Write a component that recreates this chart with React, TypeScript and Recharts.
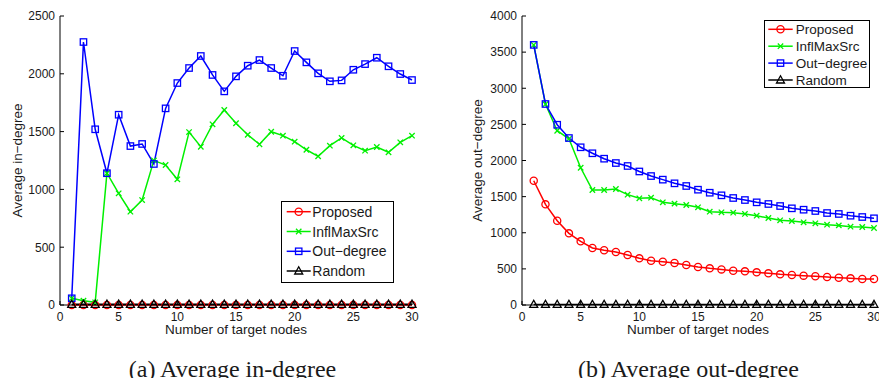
import React from 'react';
import { LineChart, Line, XAxis, YAxis, Legend, Label } from 'recharts';

const X_VALUES = [1, 2, 3, 4, 5, 6, 7, 8, 9, 10, 11, 12, 13, 14, 15, 16, 17, 18, 19, 20, 21, 22, 23, 24, 25, 26, 27, 28, 29, 30];
const X_TICKS = [0, 5, 10, 15, 20, 25, 30];
const IN_Y_TICKS = [0, 500, 1000, 1500, 2000, 2500];
const OUT_Y_TICKS = [0, 500, 1000, 1500, 2000, 2500, 3000, 3500, 4000];

// (a) average in-degree
const IN_PROPOSED = [0, 0, 0, 0, 0, 0, 0, 0, 0, 0, 0, 0, 0, 0, 0, 0, 0, 0, 0, 0, 0, 0, 0, 0, 0, 0, 0, 0, 0, 0];
const IN_INFLMAX = [58, 37, 23, 1140, 966, 807, 908, 1251, 1211, 1087, 1496, 1369, 1563, 1687, 1572, 1473, 1390, 1499, 1465, 1413, 1343, 1286, 1378, 1445, 1381, 1335, 1367, 1321, 1407, 1465];
const IN_OUTDEG = [58, 2275, 1520, 1140, 1646, 1375, 1393, 1220, 1701, 1920, 2050, 2154, 1990, 1848, 1978, 2070, 2119, 2050, 1983, 2197, 2099, 2004, 1935, 1943, 2035, 2084, 2139, 2065, 1998, 1946];
const IN_RANDOM = [6, 6, 6, 6, 6, 6, 6, 6, 6, 6, 6, 6, 6, 6, 6, 6, 6, 6, 6, 6, 6, 6, 6, 6, 6, 6, 6, 6, 6, 6];

// (b) average out-degree
const OUT_PROPOSED = [1720, 1393, 1167, 992, 881, 789, 757, 733, 692, 646, 613, 599, 581, 553, 526, 507, 493, 475, 466, 452, 438, 424, 415, 406, 397, 387, 378, 369, 360, 360];
const OUT_INFLMAX = [3600, 2780, 2412, 2300, 1900, 1592, 1592, 1606, 1527, 1477, 1485, 1421, 1403, 1384, 1352, 1292, 1283, 1278, 1260, 1236, 1204, 1172, 1163, 1144, 1130, 1112, 1102, 1084, 1080, 1066];
const OUT_OUTDEG = [3600, 2782, 2495, 2311, 2183, 2100, 2025, 1965, 1924, 1848, 1785, 1735, 1684, 1647, 1596, 1554, 1518, 1481, 1453, 1421, 1398, 1370, 1338, 1319, 1301, 1273, 1260, 1236, 1218, 1200];
const OUT_RANDOM = [8, 8, 8, 8, 8, 8, 8, 8, 8, 8, 8, 8, 8, 8, 8, 8, 8, 8, 8, 8, 8, 8, 8, 8, 8, 8, 8, 8, 8, 8];

const SERIES = [
  { key: 'proposed', name: 'Proposed', color: '#ff0000', shape: 'circle' },
  { key: 'inflmax', name: 'InflMaxSrc', color: '#00f000', shape: 'x' },
  { key: 'outdeg', name: 'Out\u2212degree', color: '#0000ff', shape: 'square' },
  { key: 'random', name: 'Random', color: '#000000', shape: 'triangle' },
];

const inData = X_VALUES.map((x, i) => ({
  x,
  proposed: IN_PROPOSED[i],
  inflmax: IN_INFLMAX[i],
  outdeg: IN_OUTDEG[i],
  random: IN_RANDOM[i],
}));

const outData = X_VALUES.map((x, i) => ({
  x,
  proposed: OUT_PROPOSED[i],
  inflmax: OUT_INFLMAX[i],
  outdeg: OUT_OUTDEG[i],
  random: OUT_RANDOM[i],
}));

const FONT = '"Liberation Sans", Arial, Helvetica, sans-serif';
const SERIF = '"Liberation Serif", "Times New Roman", serif';
const TEXT = '#1a1a1a';

function Marker({ shape, color, cx, cy }: any) {
  if (cx == null || cy == null) return null;
  const sw = 1.3;
  if (shape === 'circle') {
    return <circle cx={cx} cy={cy} r={3.6} fill="none" stroke={color} strokeWidth={sw} />;
  }
  if (shape === 'x') {
    const d = 2.7;
    return (
      <path
        d={`M${cx - d},${cy - d}L${cx + d},${cy + d}M${cx - d},${cy + d}L${cx + d},${cy - d}`}
        stroke={color}
        strokeWidth={sw}
        fill="none"
      />
    );
  }
  if (shape === 'square') {
    return <rect x={cx - 3.2} y={cy - 3.2} width={6.4} height={6.4} fill="none" stroke={color} strokeWidth={sw} />;
  }
  return (
    <path
      d={`M${cx},${cy - 4.2}L${cx + 4},${cy + 3}L${cx - 4},${cy + 3}Z`}
      fill="none"
      stroke={color}
      strokeWidth={sw}
    />
  );
}

const makeDot = (shape: string, color: string) => (props: any) => (
  <Marker key={`${shape}-${props.index}`} shape={shape} color={color} cx={props.cx} cy={props.cy} />
);

const XTick = (props: any) => (
  <text x={props.x} y={props.y + 7.5} textAnchor="middle" fontSize={12} fontFamily={FONT} fill={TEXT}>
    {props.payload.value}
  </text>
);

const YTick = (props: any) => (
  <text x={props.x} y={props.y + 4.3} textAnchor="end" fontSize={12} fontFamily={FONT} fill={TEXT}>
    {props.payload.value}
  </text>
);

const xLabel = (props: any) => {
  const vb = props.viewBox || { x: 0, y: 0, width: 0 };
  return (
    <text x={vb.x + vb.width / 2} y={vb.y + 29} textAnchor="middle" fontSize={13.5} fontFamily={FONT} fill={TEXT}>
      Number of target nodes
    </text>
  );
};

const yLabel = (text: string, lx: number) => (props: any) => {
  const vb = props.viewBox || { y: 16, height: 289 };
  const cy = vb.y + vb.height / 2;
  return (
    <text
      x={lx}
      y={cy}
      transform={`rotate(-90, ${lx}, ${cy})`}
      textAnchor="middle"
      dominantBaseline="central"
      fontSize={13.5}
      fontFamily={FONT}
      fill={TEXT}
    >
      {text}
    </text>
  );
};

function LegendBox({ width, height, rows, fontSize, lineX0, lineX1, textX }: any) {
  return (
    <svg width={width} height={height} style={{ display: 'block' }}>
      <rect x={0.5} y={0.5} width={width - 1} height={height - 1} fill="#fff" stroke="#000" strokeWidth={1} />
      {SERIES.map((s, i) => {
        const cy = rows[i];
        return (
          <g key={s.key}>
            <line x1={lineX0} x2={lineX1} y1={cy} y2={cy} stroke={s.color} strokeWidth={1.5} />
            <Marker shape={s.shape} color={s.color} cx={(lineX0 + lineX1) / 2} cy={cy} />
            <text x={textX} y={cy} dominantBaseline="central" fontSize={fontSize} fontFamily={FONT} fill={TEXT}>
              {s.name}
            </text>
          </g>
        );
      })}
    </svg>
  );
}

function Panel({ data, yTicks, yMax, yText, width, yAxisWidth, marginRight, yLabelX, legend }: any) {
  return (
    <LineChart
      width={width}
      height={378}
      data={data}
      margin={{ top: 16, right: marginRight, bottom: 40, left: 0 }}
    >
      <XAxis
        dataKey="x"
        type="number"
        domain={[0, 30]}
        ticks={X_TICKS}
        interval={0}
        stroke="#000"
        tickSize={-4}
        tickMargin={12}
        tick={XTick}
        height={33}
      >
        <Label content={xLabel} />
      </XAxis>
      <XAxis
        xAxisId="top"
        orientation="top"
        dataKey="x"
        type="number"
        domain={[0, 30]}
        ticks={X_TICKS}
        interval={0}
        stroke="#000"
        tickSize={-4}
        tick={false}
        height={0}
      />
      <YAxis
        type="number"
        domain={[0, yMax]}
        ticks={yTicks}
        interval={0}
        stroke="#000"
        tickSize={-4}
        tickMargin={9}
        tick={YTick}
        width={yAxisWidth}
      >
        <Label content={yLabel(yText, yLabelX)} />
      </YAxis>
      <YAxis
        yAxisId="right"
        orientation="right"
        type="number"
        domain={[0, yMax]}
        ticks={yTicks}
        interval={0}
        stroke="#000"
        tickSize={-4}
        tick={false}
        width={0}
      />
      {SERIES.map((s) => (
        <Line
          key={s.key}
          type="linear"
          dataKey={s.key}
          name={s.name}
          stroke={s.color}
          strokeWidth={1.5}
          dot={makeDot(s.shape, s.color)}
          activeDot={false}
          isAnimationActive={false}
        />
      ))}
      <Legend
        layout="vertical"
        align="center"
        verticalAlign="middle"
        wrapperStyle={{ left: legend.left, top: legend.top, width: legend.width, height: legend.height }}
        content={() => <LegendBox {...legend} />}
      />
    </LineChart>
  );
}

export default function App() {
  return (
    <div style={{ position: 'absolute', left: 0, top: 0, width: 879, height: 378, background: '#fff', overflow: 'hidden' }}>
      <div style={{ position: 'absolute', left: 0, top: 0 }}>
        <Panel
          data={inData}
          yTicks={IN_Y_TICKS}
          yMax={2500}
          yText={'Average in\u2212degree'}
          width={440}
          yAxisWidth={60}
          marginRight={28}
          yLabelX={17}
          legend={{
            left: 281,
            top: 201,
            width: 113,
            height: 82,
            rows: [10.7, 30.5, 50.3, 70],
            fontSize: 14,
            lineX0: 5.7,
            lineX1: 29.7,
            textX: 31.3,
          }}
        />
      </div>
      <div style={{ position: 'absolute', left: 440, top: 0 }}>
        <Panel
          data={outData}
          yTicks={OUT_Y_TICKS}
          yMax={4000}
          yText={'Average out\u2212degree'}
          width={439}
          yAxisWidth={82}
          marginRight={5}
          yLabelX={37}
          legend={{
            left: 324,
            top: 20,
            width: 106,
            height: 68,
            rows: [9.3, 26.2, 43.1, 60],
            fontSize: 13.5,
            lineX0: 4.3,
            lineX1: 28.7,
            textX: 31.7,
          }}
        />
      </div>
      <div
        style={{
          position: 'absolute',
          left: 0,
          top: 355,
          width: 440,
          textAlign: 'center',
          fontFamily: SERIF,
          fontSize: 24,
          lineHeight: '28px',
          color: TEXT,
          paddingLeft: 25,
          boxSizing: 'border-box',
        }}
      >
        (a) Average in-degree
      </div>
      <div
        style={{
          position: 'absolute',
          left: 440,
          top: 355,
          width: 439,
          textAlign: 'center',
          fontFamily: SERIF,
          fontSize: 24,
          lineHeight: '28px',
          color: TEXT,
          paddingLeft: 58,
          boxSizing: 'border-box',
        }}
      >
        (b) Average out-degree
      </div>
    </div>
  );
}
